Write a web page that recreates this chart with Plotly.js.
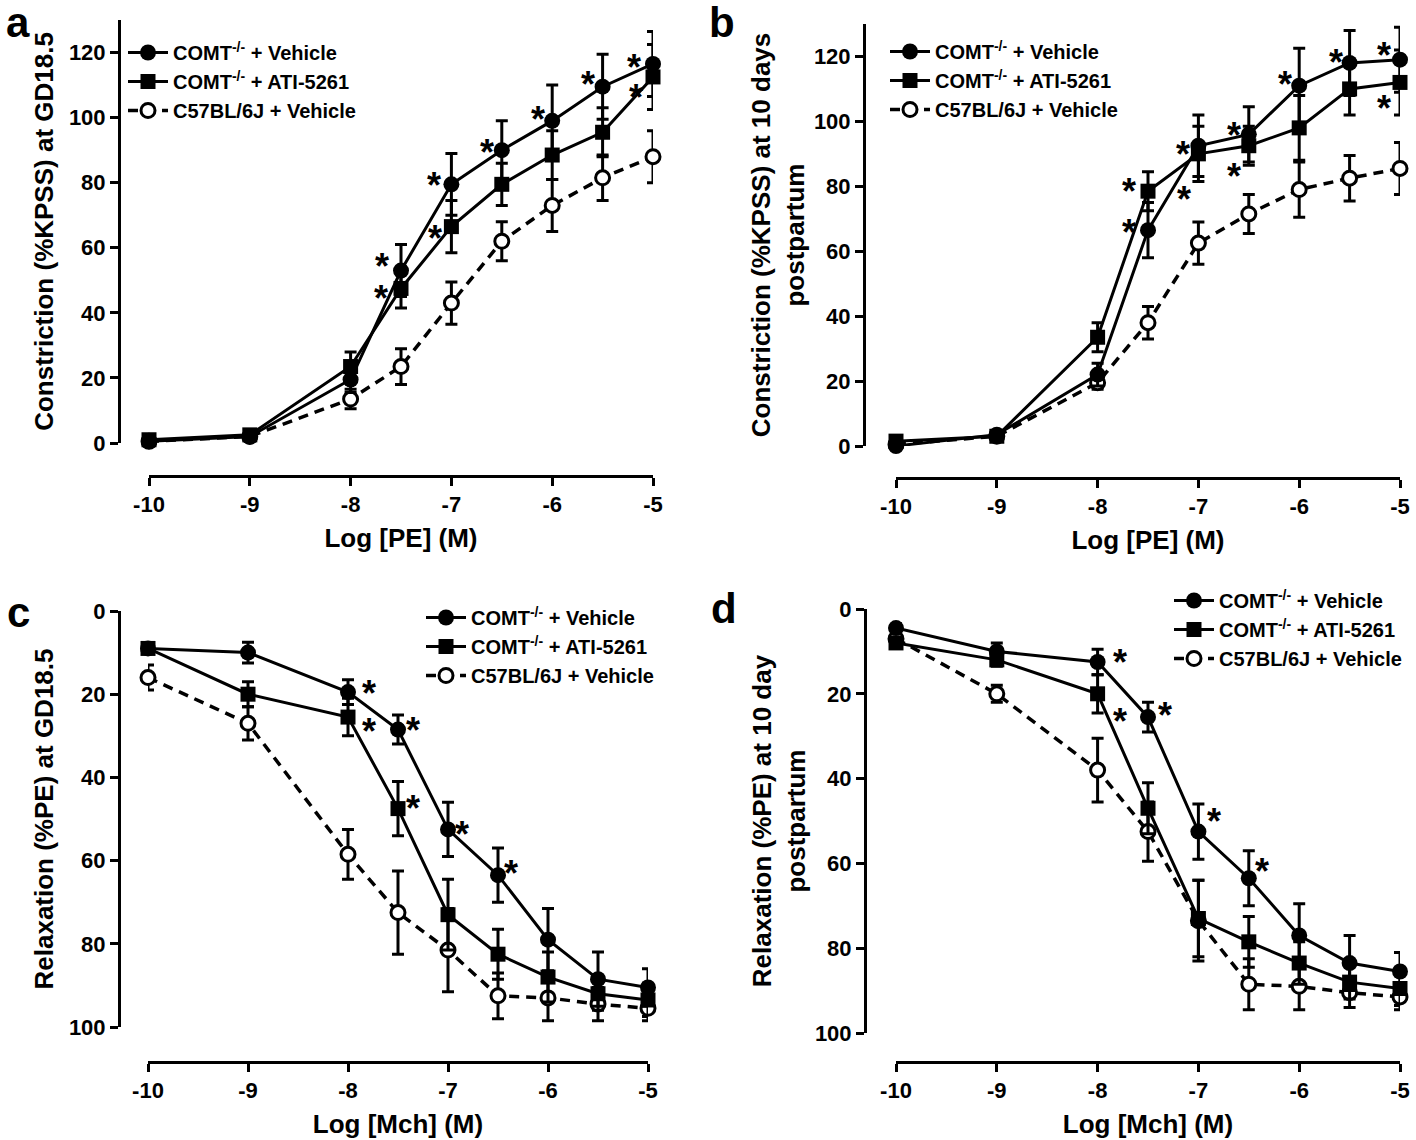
<!DOCTYPE html>
<html>
<head>
<meta charset="utf-8">
<script src="https://cdn.plot.ly/plotly-3.0.1.min.js"></script>
<style>
  html, body { margin: 0; padding: 0; background: #ffffff; }
  #chart { width: 1416px; height: 1140px; }
</style>
</head>
<body>
<div id="chart"></div>
<script>
// ---------- DATA ----------
const logDose = [-10, -9, -8, -7.5, -7, -6.5, -6, -5.5, -5];
const xTickVals = [-10, -9, -8, -7, -6, -5];
const xTickText = ['-10', '-9', '-8', '-7', '-6', '-5'];
const seriesNames = ['COMT<sup>-/-</sup> + Vehicle', 'COMT<sup>-/-</sup> + ATI-5261', 'C57BL/6J + Vehicle'];

// Panel a: PE constriction at GD18.5
const a_veh     = [0.5, 2, 19.5, 53, 79.5, 90, 99, 109.5, 116.5];
const a_veh_err = [1, 1, 4, 8, 9.5, 9, 11, 10, 10];
const a_ati     = [1, 2.5, 23.5, 47.5, 66.5, 79.5, 88.5, 95.5, 112.5];
const a_ati_err = [1, 1, 4.5, 6, 8, 6.5, 7.5, 7.5, 10];
const a_c57     = [0.5, 2, 13.5, 23.5, 43, 62, 73, 81.5, 88];
const a_c57_err = [1, 1, 3, 5.5, 6.5, 6, 8, 7, 8];

// Panel b: PE constriction at 10 days postpartum
const b_veh     = [0, 3.5, 22, 66.5, 92.5, 96, 111, 118, 119];
const b_veh_err = [1, 1, 3.5, 8.5, 9.5, 8.5, 11.5, 10, 10];
const b_ati     = [1.5, 3, 33.5, 78.5, 90, 92.5, 98, 110, 112];
const b_ati_err = [1, 1, 4.5, 6, 8.5, 6, 10, 8, 10];
const b_c57     = [0.5, 3, 19.5, 38, 62.5, 71.5, 79, 82.5, 85.5];
const b_c57_err = [1, 1, 2, 5, 6.5, 6, 8.5, 7, 8];

// Panel c: Mch relaxation at GD18.5
const c_veh     = [9, 10, 19.5, 28.5, 52.5, 63.5, 79, 88.5, 90.5];
const c_veh_err = [1, 2.5, 3, 3.5, 6.5, 6.5, 7.5, 6.5, 4.5];
const c_ati     = [9, 20, 25.5, 47.5, 73, 82.5, 88, 92, 93.5];
const c_ati_err = [1, 3, 4.5, 6.5, 8.5, 6, 6, 4, 4];
const c_c57     = [16, 27, 58.5, 72.5, 81.5, 92.5, 93, 94.5, 95.5];
const c_c57_err = [3, 4, 6, 10, 10, 5.5, 5.5, 4, 3];

// Panel d: Mch relaxation at 10 days postpartum
const d_veh     = [4.5, 10, 12.5, 25.5, 52.5, 63.5, 77, 83.5, 85.5];
const d_veh_err = [1, 2, 3, 3.5, 6.5, 6.5, 7.5, 6.5, 4.5];
const d_ati     = [8, 12, 20, 47, 73, 78.5, 83.5, 88, 89.5];
const d_ati_err = [1, 1.5, 4.5, 6, 9, 6, 5, 4, 4];
const d_c57     = [7, 20, 38, 52.5, 73.5, 88.5, 89, 90.5, 91.5];
const d_c57_err = [1, 2, 7.5, 7, 9.5, 6, 5.5, 3.5, 3];

// Significance markers: [series index (0 veh, 1 ATI), point index]
const sigA = [[0,3],[1,3],[0,4],[1,4],[0,5],[0,6],[0,7],[0,8],[1,8]];
const sigB = [[1,3],[0,3],[0,4],[1,4],[0,5],[1,5],[0,6],[0,7],[0,8],[1,8]];
const sigC = [[0,2],[1,2],[0,3],[1,3],[0,4],[0,5]];
const sigD = [[0,2],[1,2],[0,3],[0,4],[0,5]];

// ---------- STYLE / LAYOUT ----------
const W = 1416, H = 1140;
const FONT = 'Liberation Sans, Arial, Helvetica, sans-serif';
const px2x = p => p / W;
const px2y = p => 1 - p / H;

const panels = [
  { key: '', data: [[a_veh, a_veh_err], [a_ati, a_ati_err], [a_c57, a_c57_err]], legend: 'legend',
    xpx: [149, 653], ypx: [443, 20], yline: 119, xline: 476, yrange: [0, 130], ytick: [0,20,40,60,80,100,120],
    ytitle: 'Constriction (%KPSS) at GD18.5', ystand: 6, xtitle: 'Log [PE] (M)', sig: sigA,
    sigOff: [[-19,-13],[-20,1],[-17,-8],[-16,3],[-15,-7],[-14,-10],[-15,-11],[-19,-5],[-17,12]],
    letter: ['a', 18], leg: [123, 33] },
  { key: '2', data: [[b_veh, b_veh_err], [b_ati, b_ati_err], [b_c57, b_c57_err]], legend: 'legend2',
    xpx: [896, 1400], ypx: [446, 24], yline: 864, xline: 478, yrange: [0, 130], ytick: [0,20,40,60,80,100,120],
    ytitle: 'Constriction (%KPSS) at 10 days<br>postpartum', ystand: 0, xtitle: 'Log [PE] (M)', sig: sigB,
    sigOff: [[-19,-9],[-19,-7],[-15,0],[-14,37],[-15,-8],[-15,22],[-14,-10],[-14,-9],[-16,-13],[-16,17]],
    letter: ['b', 722], leg: [885, 32] },
  { key: '3', data: [[c_veh, c_veh_err], [c_ati, c_ati_err], [c_c57, c_c57_err]], legend: 'legend3',
    xpx: [148, 648], ypx: [1027, 611], yline: 119, xline: 1062, yrange: [100, 0], ytick: [0,20,40,60,80,100],
    ytitle: 'Relaxation (%PE) at GD18.5', ystand: 6, xtitle: 'Log [Mch] (M)', sig: sigC,
    sigOff: [[21,-8],[21,5],[15,-8],[15,-9],[14,-4],[13,-11]],
    letter: ['c', 18], leg: [421, 598] },
  { key: '4', data: [[d_veh, d_veh_err], [d_ati, d_ati_err], [d_c57, d_c57_err]], legend: 'legend4',
    xpx: [896, 1400], ypx: [1033, 609], yline: 865, xline: 1062, yrange: [100, 0], ytick: [0,20,40,60,80,100],
    ytitle: 'Relaxation (%PE) at 10 day<br>postpartum', ystand: 0, xtitle: 'Log [Mch] (M)', sig: sigD,
    sigOff: [[22,-9],[22,19],[17,-11],[16,-19],[13,-16]],
    letter: ['d', 724], leg: [1169, 581] }
];
const letterTop = [0, 0, 590, 586];

const markerSpec = [
  { symbol: 'circle', color: '#000', size: 16, line: { color: '#000', width: 0 } },
  { symbol: 'square', color: '#000', size: 15, line: { color: '#000', width: 0 } },
  { symbol: 'circle', color: '#fff', size: 14, line: { color: '#000', width: 3 } }
];
const lineSpec = [
  { color: '#000', width: 3, dash: 'solid' },
  { color: '#000', width: 3, dash: 'solid' },
  { color: '#000', width: 3.5, dash: '10px,7px' }
];

const traces = [];
const annotations = [];
const layout = {
  width: W, height: H,
  margin: { l: 0, r: 0, t: 0, b: 0 },
  paper_bgcolor: '#fff', plot_bgcolor: 'rgba(0,0,0,0)',
  font: { family: FONT, color: '#000', size: 20, weight: 'bold' },
  showlegend: true
};

panels.forEach((p, pIdx) => {
  const xa = 'x' + p.key, ya = 'y' + p.key;
  // draw order: open circles first, then squares, then filled circles
  [2, 1, 0].forEach(i => {
    traces.push({
      type: 'scatter', mode: 'lines+markers',
      x: logDose, y: p.data[i][0],
      name: seriesNames[i],
      xaxis: xa, yaxis: ya,
      legend: p.legend,
      legendrank: i + 1,
      cliponaxis: false,
      line: lineSpec[i],
      marker: markerSpec[i],
      error_y: { type: 'data', array: p.data[i][1], visible: true, color: '#000', thickness: 3, width: 6 },
      hoverinfo: 'x+y'
    });
  });

  const xName = 'xaxis' + p.key, yName = 'yaxis' + p.key;
  layout[xName] = {
    domain: [px2x(p.xpx[0]), px2x(p.xpx[1])],
    range: [-10, -5],
    anchor: 'free', position: px2y(p.xline),
    showline: true, linewidth: 3, linecolor: '#000',
    ticks: 'outside', ticklen: 8, tickwidth: 3, tickcolor: '#000',
    tickvals: xTickVals, ticktext: xTickText,
    tickfont: { family: FONT, size: 22, weight: 'bold' },
    showgrid: false, zeroline: false,
    title: { text: p.xtitle, font: { family: FONT, size: 26, weight: 'bold' }, standoff: 12 },
    automargin: false, fixedrange: true
  };
  layout[yName] = {
    domain: [px2y(p.ypx[0]), px2y(p.ypx[1])],
    range: p.yrange,
    anchor: 'free', position: px2x(p.yline),
    showline: true, linewidth: 3, linecolor: '#000',
    ticks: 'outside', ticklen: 8, tickwidth: 3, tickcolor: '#000',
    tickvals: p.ytick,
    tickfont: { family: FONT, size: 22, weight: 'bold' },
    showgrid: false, zeroline: false,
    title: { text: p.ytitle, font: { family: FONT, size: 26, weight: 'bold' }, standoff: p.ystand },
    automargin: false, fixedrange: true
  };

  layout[p.legend] = {
    x: px2x(p.leg[0]), y: px2y(p.leg[1]), xanchor: 'left', yanchor: 'top',
    bgcolor: 'rgba(0,0,0,0)', borderwidth: 0,
    font: { family: FONT, size: 20, weight: 'bold', color: '#000' },
    itemsizing: 'trace', itemwidth: 40, traceorder: 'normal', tracegroupgap: 0
  };

  // significance asterisks
  p.sig.forEach((s, k) => {
    const [si, pi] = s;
    const off = p.sigOff[k];
    annotations.push({
      xref: xa, yref: ya, x: logDose[pi], y: p.data[si][0][pi],
      text: '*', showarrow: false,
      xshift: off[0], yshift: -off[1] - 9,
      font: { family: FONT, size: 36, weight: 'bold', color: '#000' }
    });
  });

  // panel letter
  annotations.push({
    xref: 'paper', yref: 'paper', x: px2x(p.letter[1]), y: px2y(letterTop[pIdx]),
    xanchor: 'center', yanchor: 'top', yshift: 2,
    text: p.letter[0], showarrow: false, borderpad: 0,
    font: { family: FONT, size: 42, weight: 'bold', color: '#000' }
  });
});

layout.annotations = annotations;

Plotly.newPlot('chart', traces, layout, { displayModeBar: false, staticPlot: true });
</script>
</body>
</html>
